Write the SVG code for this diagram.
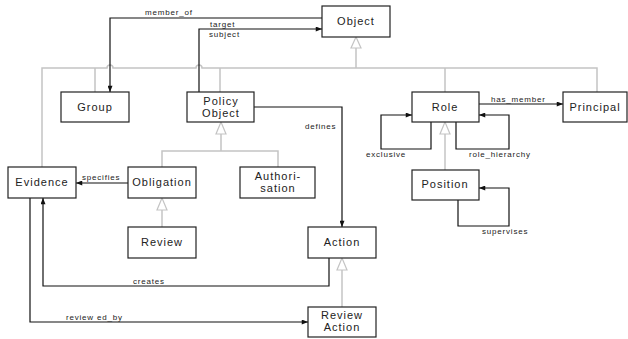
<svg xmlns="http://www.w3.org/2000/svg" width="628" height="339" viewBox="0 0 628 339">
<defs>
<style>
.box{fill:#fff;stroke:#222;stroke-width:1.2}
.nl{font-family:"Liberation Sans",Arial,sans-serif;font-size:11px;letter-spacing:1px;fill:#222;text-anchor:middle}
.el{font-family:"Liberation Sans",Arial,sans-serif;font-size:8px;letter-spacing:0.8px;fill:#222}
.inh{fill:none;stroke:#c4c4c4;stroke-width:1.5}
.tri{fill:#fff;stroke:#c4c4c4;stroke-width:1.2}
.assoc{fill:none;stroke:#111;stroke-width:1.2}
</style>
<marker id="ah" viewBox="0 0 10 8" refX="10" refY="4" markerWidth="7" markerHeight="5" orient="auto" markerUnits="userSpaceOnUse">
<path d="M0,0 L10,4 L0,8 Z" fill="#111"/>
</marker>
</defs>
<rect width="628" height="339" fill="#fff"/>
<g id="connectors">
<!-- inheritance -->
<path class="inh" d="M356,48 V68 M42,167 V68 H107 A3,3 0 0 1 113,68 H196 A3,3 0 0 1 202,68 H597 V92 M95,68 V92 M220,68 V92 M445,68 V92"/>
<polygon class="tri" points="356,37 351,48 361,48"/>
<path class="inh" d="M221,134 V151 M162,167 V151 H278 V167"/>
<polygon class="tri" points="221,122 216,134 226,134"/>
<path class="inh" d="M162,210 V227"/>
<polygon class="tri" points="162,198 157,210 167,210"/>
<path class="inh" d="M342,270 V307"/>
<polygon class="tri" points="342,258 337,270 347,270"/>
<path class="inh" d="M445,134 V170"/>
<polygon class="tri" points="445,122 440,134 450,134"/>
<!-- associations -->
<path class="assoc" d="M322,18 H110 V92" marker-end="url(#ah)"/>
<path class="assoc" d="M199,92 V29 H322" marker-end="url(#ah)"/>
<path class="assoc" d="M254,107 H342 V227" marker-end="url(#ah)"/>
<path class="assoc" d="M128,183 H76" marker-end="url(#ah)"/>
<path class="assoc" d="M329,258 V286 H43 V198" marker-end="url(#ah)"/>
<path class="assoc" d="M30,198 V322 H308" marker-end="url(#ah)"/>
<path class="assoc" d="M479,104 H563" marker-end="url(#ah)"/>
<path class="assoc" d="M431,122 V149 H381 V115 H412" marker-end="url(#ah)"/>
<path class="assoc" d="M456,122 V149 H509 V115 H479" marker-end="url(#ah)"/>
<path class="assoc" d="M458,200 V226 H509 V188 H479" marker-end="url(#ah)"/>
<text class="el" x="145" y="15">member_of</text>
<text class="el" x="210" y="27">target</text>
<text class="el" x="209" y="37">subject</text>
<text class="el" x="305" y="129">defines</text>
<text class="el" x="82" y="180">specifies</text>
<text class="el" x="133" y="284">creates</text>
<text class="el" x="66" y="320">review ed_by</text>
<text class="el" x="491" y="102">has_member</text>
<text class="el" x="366" y="157">exclusive</text>
<text class="el" x="469" y="157">role_hierarchy</text>
<text class="el" x="482" y="234">supervises</text>
</g>
<g id="Object"><rect class="box" x="322" y="6" width="68" height="31"/><text class="nl" x="356" y="25">Object</text></g>
<g id="Group"><rect class="box" x="61" y="92" width="68" height="30"/><text class="nl" x="95" y="111">Group</text></g>
<g id="PolicyObject"><rect class="box" x="187" y="92" width="67" height="30"/><text class="nl" x="221" y="105">Policy</text><text class="nl" x="221" y="117">Object</text></g>
<g id="Role"><rect class="box" x="412" y="92" width="67" height="30"/><text class="nl" x="445" y="111">Role</text></g>
<g id="Principal"><rect class="box" x="563" y="92" width="64" height="30"/><text class="nl" x="595" y="111">Principal</text></g>
<g id="Evidence"><rect class="box" x="8" y="167" width="68" height="31"/><text class="nl" x="42" y="186">Evidence</text></g>
<g id="Obligation"><rect class="box" x="128" y="167" width="68" height="31"/><text class="nl" x="162" y="186">Obligation</text></g>
<g id="Authorisation"><rect class="box" x="240" y="167" width="75" height="31"/><text class="nl" x="278" y="180">Authori-</text><text class="nl" x="278" y="192">sation</text></g>
<g id="Position"><rect class="box" x="412" y="170" width="67" height="30"/><text class="nl" x="445" y="188">Position</text></g>
<g id="Review"><rect class="box" x="128" y="227" width="68" height="31"/><text class="nl" x="162" y="246">Review</text></g>
<g id="Action"><rect class="box" x="308" y="227" width="68" height="31"/><text class="nl" x="342" y="246">Action</text></g>
<g id="ReviewAction"><rect class="box" x="308" y="307" width="68" height="30"/><text class="nl" x="342" y="319">Review</text><text class="nl" x="342" y="331">Action</text></g>
</svg>
